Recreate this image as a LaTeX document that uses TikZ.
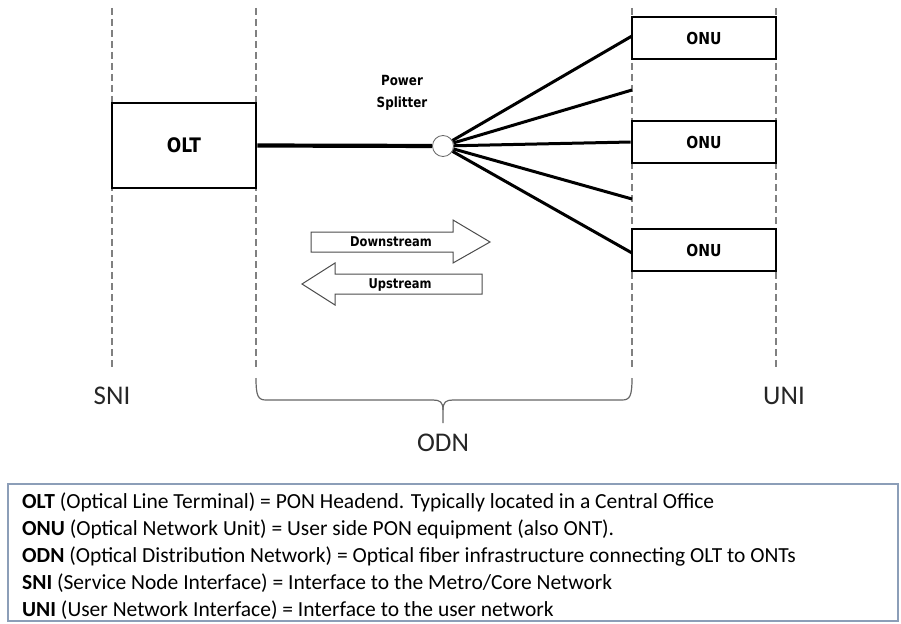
\documentclass[tikz,border=0pt]{standalone}
\usepackage{fontspec}
\setmainfont{Carlito}
\newfontfamily\lblfont[FakeStretch=0.85]{DejaVu Sans Bold}
\definecolor{legendborder}{RGB}{140,158,184}
\begin{document}
\begin{tikzpicture}[x=1pt,y=-1pt,
  guide/.style={draw=black!50,line width=1.2pt,dash pattern=on 7pt off 4pt},
  unitbox/.style={draw=black,line width=2.6pt,fill=white,inner sep=0pt},
  fibre/.style={draw=black,line width=3pt},
  flowarrow/.style={draw=black!70,line width=1pt,fill=white},
  flowtext/.style={font=\lblfont\fontsize{13.5}{15}\selectfont},
  iface/.style={font=\fontsize{27}{30}\selectfont,text=black!85},
  legendline/.style={font=\fontsize{21.5}{25}\selectfont,anchor=west,inner sep=0pt}]
\useasboundingbox (0,0) rectangle (901,623);

% reference-point dashed guides
\draw[guide] (112,8) -- (112,368);
\draw[guide] (256,8) -- (256,368);
\draw[guide] (632,8) -- (632,368);
\draw[guide] (776,8) -- (776,368);

% OLT and ONUs
\node[unitbox,minimum width=144pt,minimum height=85pt,
      font=\lblfont\fontsize{20}{22}\selectfont] (olt) at (184,145.5) {OLT};
\node[unitbox,minimum width=144pt,minimum height=42pt,
      font=\lblfont\fontsize{16.5}{18}\selectfont] (onu1) at (704,38) {ONU};
\node[unitbox,minimum width=144pt,minimum height=42pt,
      font=\lblfont\fontsize{16.5}{18}\selectfont] (onu2) at (704,142) {ONU};
\node[unitbox,minimum width=144pt,minimum height=42pt,
      font=\lblfont\fontsize{16.5}{18}\selectfont] (onu3) at (704,250) {ONU};

% splitter
\node[circle,draw=black!60,line width=0.8pt,fill=white,minimum size=21pt,inner sep=0pt] (sp) at (443,146) {};
\node[anchor=base,font=\lblfont\fontsize{14}{16}\selectfont] (splbl1) at (402,86) {Power};
\node[anchor=base,font=\lblfont\fontsize{14}{16}\selectfont] (splbl2) at (402,108) {Splitter};

% fibre drops ending on the UNI side
\coordinate (d1) at (632,36);
\coordinate (d2) at (632,90);
\coordinate (d4) at (632,199);
\coordinate (d5) at (632,253);

\draw[line width=4.2pt] (olt.east) -- (sp);
\draw[fibre] (sp) -- (d1);
\draw[fibre] (sp) -- (d2);
\draw[fibre] (sp) -- (onu2.west);
\draw[fibre] (sp) -- (d4);
\draw[fibre] (sp) -- (d5);

% traffic direction arrows
\draw[flowarrow] (311,232) -- (453,232) -- (453,220) -- (490,242) -- (453,263) -- (453,252) -- (311,252) -- cycle;
\node[flowtext] (down) at (391,242) {Downstream};
\draw[flowarrow] (482,274) -- (335,274) -- (335,263) -- (302,284) -- (335,305) -- (335,294) -- (482,294) -- cycle;
\node[flowtext] (up) at (400,284.5) {Upstream};

% ODN brace
\draw[draw=black!60,line width=1.2pt]
  (256,378) .. controls (256,396) and (258,400) .. (266,400) -- (433,400)
  .. controls (440,400) and (443,402) .. (443,410) -- (443,423);
\draw[draw=black!60,line width=1.2pt]
  (632,378) .. controls (632,396) and (630,400) .. (622,400) -- (453,400)
  .. controls (446,400) and (443,402) .. (443,410);

\node[iface] (sni) at (112,396) {SNI};
\node[iface] (uni) at (784,396) {UNI};
\node[iface] (odn) at (443,443) {ODN};

% legend
\node[draw=legendborder,line width=1.5pt,minimum width=890pt,minimum height=137pt,inner sep=0pt] (legend) at (453,552.5) {};
\node[legendline] (l1) at (22,502) {\textbf{OLT} (Optical Line Terminal) = PON Headend. Typically located in a Central Office};
\node[legendline] (l2) at (22,529) {\textbf{ONU} (Optical Network Unit) = User side PON equipment (also ONT).};
\node[legendline] (l3) at (22,556) {\textbf{ODN} (Optical Distribution Network) = Optical fiber infrastructure connecting OLT to ONTs};
\node[legendline] (l4) at (22,583) {\textbf{SNI} (Service Node Interface) = Interface to the Metro/Core Network};
\node[legendline] (l5) at (22,610) {\textbf{UNI} (User Network Interface) = Interface to the user network};
\end{tikzpicture}
\end{document}
